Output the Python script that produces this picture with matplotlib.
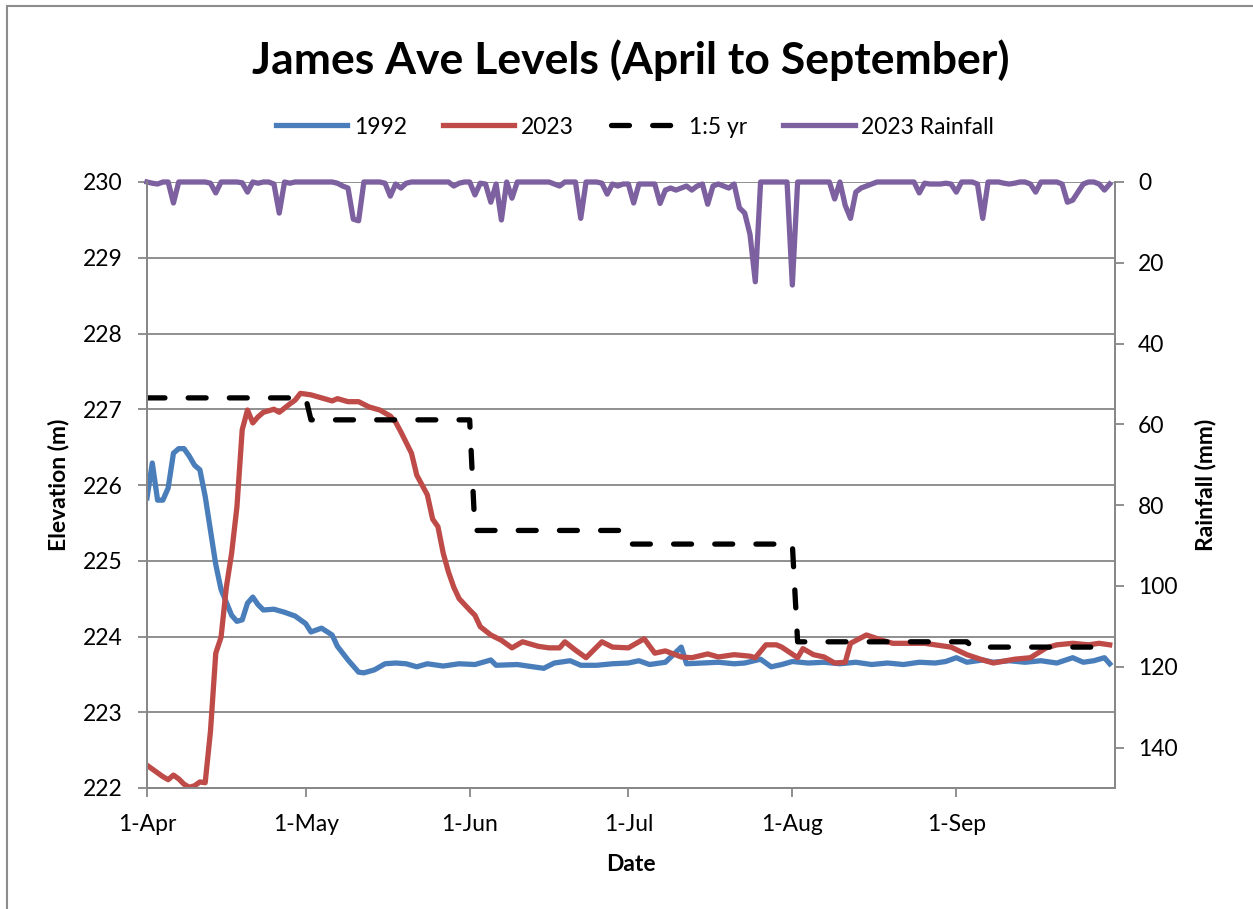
import numpy as np
import matplotlib
matplotlib.use("Agg")
import matplotlib.pyplot as plt
from matplotlib.patches import Rectangle

plt.rcParams['font.family'] = ['Lato', 'DejaVu Sans']

# days counted from 1-Apr (day 0) to 30-Sep (day 182)
tick_days = [0, 30, 61, 91, 122, 153]
tick_labels = ['1-Apr', '1-May', '1-Jun', '1-Jul', '1-Aug', '1-Sep']

# 1992 water level (m)
days_1992 = [0, 1, 2, 3, 4, 5, 6, 7, 8, 9, 10, 11, 12, 13, 14, 15, 16, 17, 18, 19,
             20, 21, 22, 24, 26, 28, 30, 31, 33, 35, 36, 38, 40, 41, 43, 45, 47, 49,
             51, 53, 56, 59, 62, 65, 66, 70, 73, 75, 77, 80, 82, 85, 88, 91, 93, 95,
             98, 101, 102, 105, 108, 111, 113, 116, 118, 120, 122, 125, 128, 131,
             134, 137, 140, 143, 146, 149, 151, 153, 155, 158, 160, 163, 166, 169,
             172, 175, 177, 179, 181, 182]
lvl_1992 = [225.83, 226.29, 225.80, 225.80, 225.96, 226.42, 226.48, 226.48, 226.38,
            226.26, 226.20, 225.85, 225.40, 224.95, 224.62, 224.45, 224.28, 224.20,
            224.22, 224.44, 224.52, 224.42, 224.35, 224.36, 224.32, 224.27, 224.17,
            224.06, 224.11, 224.02, 223.87, 223.69, 223.53, 223.52, 223.56, 223.64,
            223.65, 223.64, 223.60, 223.64, 223.61, 223.64, 223.63, 223.69, 223.62,
            223.63, 223.60, 223.58, 223.65, 223.68, 223.62, 223.62, 223.64, 223.65,
            223.68, 223.63, 223.66, 223.86, 223.64, 223.65, 223.66, 223.64, 223.65,
            223.70, 223.60, 223.63, 223.67, 223.65, 223.66, 223.64, 223.66, 223.63,
            223.65, 223.63, 223.66, 223.65, 223.67, 223.72, 223.66, 223.69, 223.66,
            223.68, 223.66, 223.68, 223.65, 223.72, 223.66, 223.68, 223.72, 223.64]

# 2023 water level (m)
days_2023 = [0, 1, 2, 3, 4, 5, 6, 7, 8, 9, 10, 11, 12, 13, 14, 15, 16, 17, 18, 19,
             20, 21, 22, 23, 24, 25, 27, 28, 29, 31, 33, 35, 36, 38, 40, 42, 44, 46,
             47, 48, 50, 51, 53, 54, 55, 56, 57, 58, 59, 61, 62, 63, 65, 67, 69, 71,
             74, 76, 78, 79, 81, 83, 86, 88, 91, 94, 96, 98, 101, 103, 106, 108, 111,
             114, 115, 117, 119, 120, 123, 124, 126, 128, 130, 132, 133, 136, 139,
             141, 147, 152, 155, 158, 160, 164, 167, 170, 172, 175, 178, 180, 182]
lvl_2023 = [222.30, 222.25, 222.20, 222.15, 222.11, 222.17, 222.12, 222.05, 222.01,
            222.03, 222.08, 222.07, 222.75, 223.78, 223.99, 224.65, 225.10, 225.71,
            226.73, 226.99, 226.82, 226.90, 226.96, 226.98, 227.00, 226.96, 227.07,
            227.12, 227.21, 227.19, 227.15, 227.11, 227.14, 227.10, 227.10, 227.03,
            226.99, 226.91, 226.83, 226.70, 226.42, 226.13, 225.87, 225.55, 225.45,
            225.10, 224.85, 224.65, 224.50, 224.35, 224.28, 224.13, 224.02, 223.95,
            223.85, 223.93, 223.87, 223.85, 223.85, 223.93, 223.82, 223.72, 223.93,
            223.86, 223.85, 223.97, 223.78, 223.81, 223.73, 223.72, 223.77, 223.73,
            223.76, 223.74, 223.72, 223.89, 223.89, 223.86, 223.72, 223.84, 223.76,
            223.73, 223.65, 223.66, 223.91, 224.02, 223.95, 223.91, 223.91, 223.86,
            223.76, 223.69, 223.65, 223.70, 223.72, 223.85, 223.89, 223.91, 223.89,
            223.91, 223.89]

# 1:5 yr design level (m)
days_5yr = [0, 30, 31, 61, 62, 90, 91, 122, 123, 155, 156, 182]
lvl_5yr = [227.15, 227.15, 226.86, 226.86, 225.40, 225.40, 225.22, 225.22,
           223.93, 223.93, 223.86, 223.86]

# 2023 daily rainfall (mm), Apr..Sep
rain_apr = [0, 0.3, 0.5, 0, 0, 5.2, 0, 0, 0, 0, 0, 0, 0.3, 2.7, 0, 0, 0, 0, 0.2, 2.5,
            0, 0.3, 0, 0, 0.5, 7.7, 0, 0.3, 0, 0]
rain_may = [0, 0, 0, 0, 0, 0, 0.3, 1, 1.5, 9.2, 9.6, 0, 0, 0, 0, 0.3, 3.5, 0.5, 1.5,
            0.3, 0, 0, 0, 0, 0, 0, 0, 0, 1, 0.3, 0]
rain_jun = [0, 3.2, 0.3, 0.5, 5, 0.5, 9.4, 0, 4, 0, 0, 0, 0, 0, 0, 0, 0.5, 1, 0, 0,
            0, 9, 0, 0, 0, 0.3, 3, 0.5, 1, 0.5]
rain_jul = [0.5, 5.2, 0.5, 0.5, 0.5, 0.5, 5.3, 2, 1.5, 2, 1.5, 1, 2, 1, 0.5, 5.5, 1,
            0.5, 1, 1.5, 0.5, 6.4, 7.7, 13, 24.7, 0, 0, 0, 0, 0, 0]
rain_aug = [25.5, 0, 0, 0, 0, 0, 0, 0, 4.2, 0, 5.8, 9, 2.5, 1.5, 1, 0.5, 0, 0, 0, 0,
            0, 0, 0, 0, 2.7, 0.3, 0.5, 0.5, 0.5, 0.3, 0.5]
rain_sep = [2.5, 0, 0, 0, 0.5, 9, 0, 0, 0, 0.3, 0.5, 0.3, 0, 0, 0.5, 2.5, 0, 0, 0, 0,
            0.5, 5, 4.5, 2.5, 0.5, 0, 0, 0.5, 2, 0.5]

rain = rain_apr + rain_may + rain_jun + rain_jul + rain_aug + rain_sep
rain_days = np.arange(len(rain))

c_blue = '#4A7EBB'
c_red = '#BE4B48'
c_purple = '#7D60A0'
c_grid = '#878787'
lw = 3.8
fs = 16.5

fig = plt.figure(figsize=(12.53, 9.09), dpi=100)
fig.patches.append(Rectangle((7 / 1253, -0.1), 1.2, 1 - 6 / 909 + 0.1, transform=fig.transFigure,
                             fill=False, edgecolor='#8c8c8c', linewidth=1.5))

ax = fig.add_axes([147 / 1253, 1 - 788 / 909, (1115 - 147) / 1253, (788 - 182) / 909])
ax2 = ax.twinx()

l1, = ax.plot(days_1992, lvl_1992, color=c_blue, lw=lw, label='1992')
l2, = ax.plot(days_2023, lvl_2023, color=c_red, lw=lw, label='2023')
l3, = ax.plot(days_5yr, lvl_5yr, color='black', lw=lw, ls=(0, (3.4, 4.4)),
              dash_capstyle='round', label='1:5 yr')
l4, = ax2.plot(rain_days, rain, color=c_purple, lw=lw, clip_on=False, label='2023 Rainfall')

ax.set_xlim(0, 183)
ax.set_ylim(222, 230)
ax.set_yticks(range(222, 231))
ax.set_xticks(tick_days)
ax.set_xticklabels(tick_labels)
ax2.set_ylim(150, 0)
ax2.set_yticks(range(0, 141, 20))

ax.grid(axis='y', color=c_grid, lw=1.3)
ax.set_axisbelow(True)
for a in (ax, ax2):
    a.spines['top'].set_visible(False)
    for s in ('left', 'right', 'bottom'):
        a.spines[s].set_color(c_grid)
        a.spines[s].set_linewidth(1.3)
    a.tick_params(colors=c_grid, labelcolor='black', width=1.3, length=6.5, labelsize=fs)
ax.tick_params(axis='y', pad=11)
ax.tick_params(axis='x', pad=12)
ax2.tick_params(axis='y', pad=10)

ax.set_ylabel('Elevation (m)', fontsize=fs, fontweight='bold', labelpad=10)
ax2.set_ylabel('Rainfall (mm)', fontsize=fs, fontweight='bold', labelpad=12)
ax.set_xlabel('Date', fontsize=fs, fontweight='bold', labelpad=14)

fig.text(0.503, 1 - 60 / 909, 'James Ave Levels (April to September)', ha='center', va='center',
         fontsize=32, fontweight='bold')

fig.legend(handles=[l1, l2, l3, l4], loc='center', bbox_to_anchor=(635 / 1253, 1 - 127 / 909),
           ncol=4, frameon=False, fontsize=fs, handlelength=3.1, handletextpad=0.3,
           columnspacing=1.6)

fig.savefig('out.png', dpi=100)
